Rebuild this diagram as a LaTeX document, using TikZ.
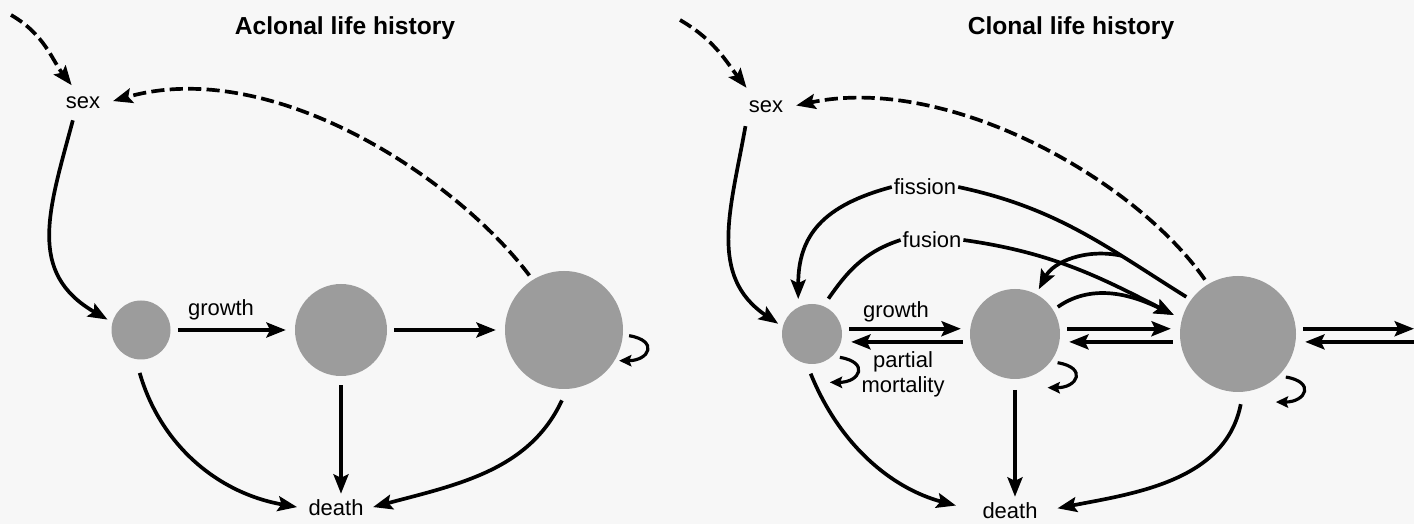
\documentclass[tikz,border=0pt]{standalone}
\usepackage{fontspec}
\setmainfont{Liberation Sans}
\usetikzlibrary{arrows.meta, positioning, calc}
\definecolor{DiscGray}{rgb}{0.61, 0.61, 0.61}
\definecolor{PaperGray}{rgb}{0.97, 0.97, 0.97}
\newcommand{\hdr}{\fontsize{14}{16}\selectfont\bfseries}
\newcommand{\lab}{\fontsize{12.5}{14.2}\selectfont}
\newcommand{\selfloop}[2]{\draw[loopy] (#1.#2) ++(#2:0.12)
    .. controls +(0.6,-0.1) and +(0.6,0) .. +(-0.2,-0.5);}

\begin{document}
\begin{tikzpicture}[
    font=\lab,
    disc/.style={circle, fill=DiscGray, inner sep=0pt},
    wire/.style={line width=2.1pt},
    arr/.style={wire, -{Stealth[length=11pt, width=8.5pt, inset=2pt]}},
    dasharr/.style={arr, dash pattern=on 7.5pt off 3pt},
    loopy/.style={line width=1.8pt, -{Stealth[length=7pt, width=6.5pt, inset=1.2pt]}},
    tag/.style={inner sep=1pt}
]
\useasboundingbox (0,0) rectangle (28.28,10.48);
\fill[PaperGray] (0,0) rectangle (28.28,10.48);

% aclonal
\node[font=\hdr] (titA) at (6.9,9.92) {Aclonal life history};
\node (sexA) at (1.66,8.42) {sex};
\node[disc, minimum size=1.18cm] (smA) at (2.82,3.88) {};
\node[disc, minimum size=1.84cm] (mdA) at (6.82,3.88) {};
\node[disc, minimum size=2.36cm] (lgA) at (11.28,3.88) {};
\node (grA) at (4.42,4.28) {growth};
\node (dthA) at (6.72,0.32) {death};
\coordinate (inA) at (0.22,10.18);

\draw[dasharr, shorten >=4pt] (inA) to[out=-30, in=128] ([xshift=-4pt]sexA.north);
\draw[dasharr, shorten <=3pt, shorten >=4pt] (lgA.122) to[out=127, in=16, out distance=2.6cm, in distance=3.4cm] (sexA.east);
\draw[arr, shorten <=3pt, shorten >=3pt] ([xshift=-5pt]sexA.south) to[out=-105, in=150, looseness=1.2] (smA.165);
\draw[arr, shorten <=4pt, shorten >=5pt] (smA) -- (mdA);
\draw[arr, shorten <=4pt, shorten >=5pt] (mdA) -- (lgA);
\selfloop{lgA}{-5}
\draw[arr, shorten <=8pt, shorten >=3pt] (smA.-100) to[out=-74, in=170] (dthA.west);
\draw[arr, shorten <=5pt] (mdA.south) -- (mdA.south |- dthA.north);
\draw[arr, shorten <=7pt, shorten >=2pt] (lgA.-87) to[out=-115, in=15] (dthA.east);

% clonal
\node[font=\hdr] (titB) at (21.42,9.92) {Clonal life history};
\node (sexB) at (15.32,8.34) {sex};
\node[disc, minimum size=1.2cm] (smB) at (16.24,3.8) {};
\node[disc, minimum size=1.8cm] (mdB) at (20.3,3.8) {};
\node[disc, minimum size=2.32cm] (lgB) at (24.76,3.8) {};
\node (grB) at (17.92,4.24) {growth};
\node[align=center] (pmB) at (18.06,3.0) {partial\\mortality};
\node[tag] (fisB) at (18.5,6.74) {fission};
\node[tag] (fusB) at (18.64,5.68) {fusion};
\node (dthB) at (20.2,0.26) {death};
\coordinate (inB) at (13.6,10.08);
\coordinate (rimB) at (28.28,3.8);

\draw[dasharr, shorten >=5pt] (inB) to[out=-30, in=128] ([xshift=-8pt]sexB.north);
\draw[dasharr, shorten <=3pt, shorten >=4pt] (lgB.121) to[out=125, in=12, out distance=2.6cm, in distance=3.2cm] (sexB.east);
\draw[arr, shorten <=4pt, shorten >=3pt] ([xshift=-11pt]sexB.south) to[out=-100, in=146, looseness=1.1] (smB.166);

\draw[arr, shorten <=4pt, shorten >=5pt] ([yshift=3pt]smB.east) -- ([yshift=3pt]mdB.west);
\draw[arr, shorten <=4pt, shorten >=5pt] ([yshift=-4.5pt]mdB.west) -- ([yshift=-4.5pt]smB.east);
\draw[arr, shorten <=4pt, shorten >=5pt] ([yshift=3pt]mdB.east) -- ([yshift=3pt]lgB.west);
\draw[arr, shorten <=4pt, shorten >=5pt] ([yshift=-4.5pt]lgB.west) -- ([yshift=-4.5pt]mdB.east);
\draw[arr, shorten <=4pt] ([yshift=3pt]lgB.east) -- ([yshift=3pt]rimB);
\draw[arr, shorten >=5pt] ([yshift=-4.5pt]rimB) -- ([yshift=-4.5pt]lgB.east);

\draw[wire, shorten <=3pt] (lgB.144) to[out=148, in=-12] coordinate[pos=0.3] (splitB) (fisB.east);
\draw[arr, shorten >=4.5pt] (fisB.west) to[out=195, in=90, looseness=1.2] (smB.117);
\draw[arr, shorten >=3pt] (splitB) to[out=168, in=62] (mdB.62);
\draw[wire, shorten <=5pt] (smB.68) to[out=55, in=198] (fusB.west);
\draw[arr, shorten >=5pt] (fusB.east) to[out=-8, in=153] (lgB.165);
\draw[arr, shorten <=3pt, shorten >=5pt] (mdB.32) to[out=35, in=154] (lgB.165);

\selfloop{smB}{-40}
\selfloop{mdB}{-34}
\selfloop{lgB}{-42}

\draw[arr, shorten <=6pt, shorten >=12pt] (smB.-100) to[out=-68, in=165] (dthB.west);
\draw[arr, shorten <=6pt] (mdB.south) -- (mdB.south |- dthB.north);
\draw[arr, shorten <=7pt, shorten >=8pt] (lgB.-85) to[out=-101, in=11] (dthB.east);

\end{tikzpicture}
\end{document}
